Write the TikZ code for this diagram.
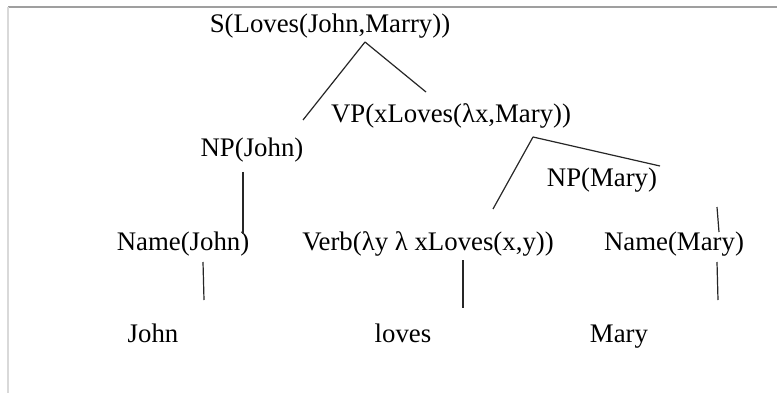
\documentclass[tikz,border=0pt]{standalone}
\usepackage{fontspec}
\setmainfont{Liberation Serif}
\usetikzlibrary{calc}
\begin{document}
\begin{tikzpicture}[x=1pt,y=-1pt,
  lbl/.style={anchor=base,inner sep=0pt,font=\fontsize{26.8}{30}\selectfont},
  edge/.style={line width=1.2pt,black!85}]
\useasboundingbox (0,0) rectangle (777,393);
\fill[white] (0,0) rectangle (777,393);
% frame lines
\draw[gray!75,line width=1.8pt] (8,7) -- (777,7);
\draw[gray!30,line width=1.3pt] (8,7) -- (8,393);
% nodes
\node[lbl] (S) at (330,33) {S(Loves(John,Marry))};
\node[lbl] (VP) at (451,123) {VP(xLoves(λx,Mary))};
\node[lbl] (NPJ) at (252,157) {NP(John)};
\node[lbl] (NPM) at (602,187) {NP(Mary)};
\node[lbl] (NameJ) at (183,250) {Name(John)};
\node[lbl] (Verb) at (428,250) {Verb(λy λ xLoves(x,y))};
\node[lbl] (NameM) at (674,250) {Name(Mary)};
\node[lbl] (John) at (153,342) {John};
\node[lbl] (loves) at (403,342) {loves};
\node[lbl] (Mary) at (619,342) {Mary};
% connectors
\draw[edge] ($(S.base)+(35,9)$) -- ($(NPJ.base)+(51,-37)$);
\draw[edge] ($(S.base)+(35,9)$) -- ($(VP.base)+(-25,-31)$);
\draw[edge] ($(NPJ.base)+(-9,15)$) -- ($(NameJ.base)+(60,-16)$);
\draw[edge] ($(VP.base)+(82,14)$) -- ($(Verb.base)+(65,-41)$);
\draw[edge] ($(VP.base)+(82,14)$) -- ($(NPM.base)+(58,-21)$);
\draw[edge] ($(NPM.base)+(115,20)$) -- ($(NameM.base)+(45,-18)$);
\draw[edge] ($(NameJ.base)+(20,12)$) -- ($(John.base)+(51,-42)$);
\draw[edge] ($(Verb.base)+(35,10)$) -- ($(loves.base)+(60,-34)$);
\draw[edge] ($(NameM.base)+(43,12)$) -- ($(Mary.base)+(99,-42)$);
\end{tikzpicture}
\end{document}
